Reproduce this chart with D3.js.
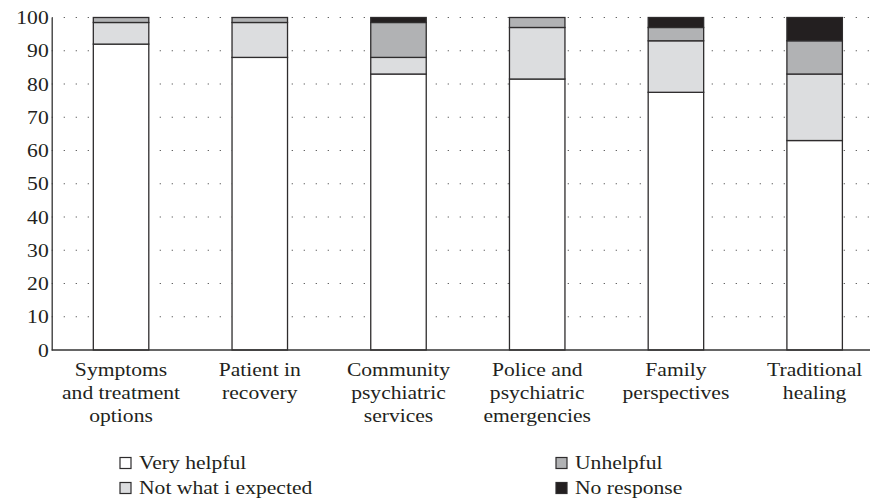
<!DOCTYPE html>
<html>
<head>
<meta charset="utf-8">
<script src="https://cdn.jsdelivr.net/npm/d3@7"></script>
<style>
  html, body { margin: 0; padding: 0; background: #fff; }
  svg { display: block; }
  text { font-family: "Liberation Serif", "Times New Roman", serif; fill: #231f20; }
</style>
</head>
<body>
<svg id="chart" width="870" height="504"></svg>
<script>
const categories = [
  "Symptoms and treatment options",
  "Patient in recovery",
  "Community psychiatric services",
  "Police and psychiatric emergencies",
  "Family perspectives",
  "Traditional healing"
];
const categoryLines = [
  ["Symptoms", "and treatment", "options"],
  ["Patient in", "recovery"],
  ["Community", "psychiatric", "services"],
  ["Police and", "psychiatric", "emergencies"],
  ["Family", "perspectives"],
  ["Traditional", "healing"]
];
const seriesNames = ["Very helpful", "Not what i expected", "Unhelpful", "No response"];
const veryHelpful = [92, 88, 83, 81.5, 77.5, 63];
const notExpected = [6.5, 10.5, 5, 15.5, 15.5, 20];
const unhelpful  = [1.5, 1.5, 10.5, 3, 4, 10];
const noResponse = [0, 0, 1.5, 0, 3, 7];
const yTicks = [0, 10, 20, 30, 40, 50, 60, 70, 80, 90, 100];
const colors = ["#ffffff", "#dcdddf", "#b1b2b4", "#231f20"];

const SX = 1.2;      // horizontal stretch of the text, as in the reference
const FS = 18;

const rows = categories.map((c, i) => ({
  cat: c,
  "Very helpful": veryHelpful[i],
  "Not what i expected": notExpected[i],
  "Unhelpful": unhelpful[i],
  "No response": noResponse[i]
}));

const svg = d3.select("#chart");
const x0 = 51.7, yBottom = 350, yTop = 17.5;

const x = d3.scaleBand().domain(categories).range([x0, 884]).paddingInner(0.6).paddingOuter(0.3);
const y = d3.scaleLinear().domain([0, 100]).range([yBottom, yTop]);
const color = d3.scaleOrdinal().domain(seriesNames).range(colors);

// dotted grid
svg.append("g").selectAll("line")
  .data(yTicks.filter(t => t > 0))
  .join("line")
  .attr("x1", x0).attr("x2", 870)
  .attr("y1", d => y(d)).attr("y2", d => y(d))
  .attr("stroke", "#555")
  .attr("stroke-width", 1.2)
  .attr("stroke-dasharray", "1.2 10.8");

// stacked bars
const stacked = d3.stack().keys(seriesNames)(rows);
svg.append("g").selectAll("g")
  .data(stacked)
  .join("g")
  .attr("fill", d => color(d.key))
  .selectAll("rect")
  .data(d => d.filter(p => p[1] - p[0] > 0))
  .join("rect")
  .attr("x", d => x(d.data.cat))
  .attr("width", x.bandwidth())
  .attr("y", d => y(d[1]))
  .attr("height", d => y(d[0]) - y(d[1]))
  .attr("stroke", "#2e2c2d")
  .attr("stroke-width", 1.3);

// axes lines
const yAxis = d3.axisLeft(y).tickValues(yTicks).tickSize(0).tickPadding(0);
const gy = svg.append("g").attr("transform", `translate(${x0},0)`).call(yAxis);
gy.select(".domain").attr("stroke", "#333").attr("stroke-width", 1.3);
gy.selectAll(".tick text").remove();
gy.selectAll(".tick").append("text")
  .attr("transform", `translate(-3,6) scale(${SX},1)`)
  .attr("text-anchor", "end")
  .style("font-size", FS + "px")
  .text(d => d);

const xAxis = d3.axisBottom(x).tickSize(0).tickFormat("");
const gx = svg.append("g").attr("transform", `translate(0,${yBottom})`).call(xAxis);
gx.select(".domain").attr("stroke", "#333").attr("stroke-width", 1.3).attr("d", `M${x0},0H870`);

// category labels
categories.forEach((c, i) => {
  const cx = x(c) + x.bandwidth() / 2;
  categoryLines[i].forEach((line, j) => {
    svg.append("text")
      .attr("transform", `translate(${cx},${376 + j * 23}) scale(${SX},1)`)
      .attr("text-anchor", "middle")
      .style("font-size", FS + "px")
      .text(line);
  });
});

// legend
const legendPos = [[120, 463], [120, 488], [556, 463], [556, 488]];
seriesNames.forEach((s, i) => {
  const [lx, ly] = legendPos[i];
  svg.append("rect")
    .attr("x", lx).attr("y", ly - 5.5)
    .attr("width", 11).attr("height", 11)
    .attr("fill", color(s))
    .attr("stroke", "#2e2c2d").attr("stroke-width", 1.2);
  svg.append("text")
    .attr("transform", `translate(${lx + 19},${ly + 6}) scale(${SX},1)`)
    .style("font-size", FS + "px")
    .text(s);
});
</script>
</body>
</html>
